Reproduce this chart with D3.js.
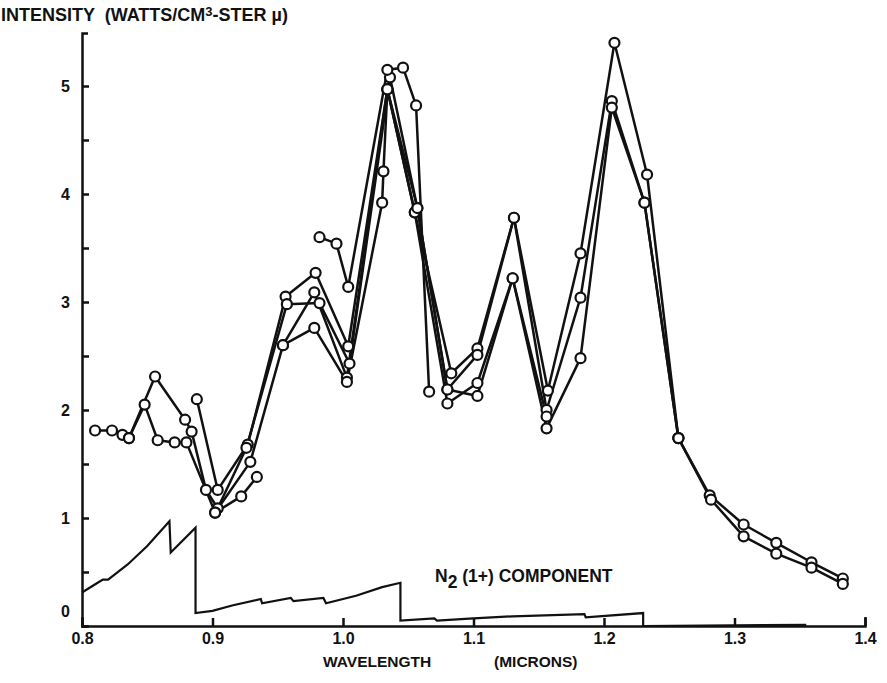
<!DOCTYPE html>
<html>
<head>
<meta charset="utf-8">
<script src="https://cdn.jsdelivr.net/npm/d3@7"></script>
<style>
  body { margin: 0; background: #fff; }
  text { font-family: "Liberation Sans", Arial, sans-serif; fill: #111; font-weight: bold; }
</style>
</head>
<body>
<script>
// measured runs: [wavelength (microns), intensity]
var run1 = [[0.888,2.10],[0.904,1.26],[0.927,1.68],[0.956,3.05],[0.979,3.27],[1.004,2.59],[1.034,4.97],[1.055,3.83],[1.083,2.34],[1.103,2.57],[1.131,3.78],[1.157,2.18],[1.182,3.45],[1.208,5.40],[1.233,4.18],[1.257,1.74],[1.281,1.21],[1.307,0.94],[1.332,0.77],[1.359,0.59],[1.383,0.44]]
var run2 = [[0.810,1.81],[0.823,1.81],[0.831,1.77],[0.836,1.74],[0.856,2.31],[0.879,1.91],[0.884,1.80],[0.895,1.26],[0.904,1.09],[0.926,1.65],[0.957,2.98],[0.982,2.99],[1.005,2.43],[1.036,5.08],[1.057,3.87],[1.080,2.19],[1.103,2.51],[1.131,3.78],[1.156,2.00],[1.182,3.04],[1.206,4.86],[1.231,3.92],[1.257,1.74],[1.282,1.17],[1.307,0.83],[1.332,0.67],[1.359,0.54],[1.383,0.39]]
var run3 = [[0.836,1.74],[0.848,2.05],[0.858,1.72],[0.871,1.70],[0.880,1.70],[0.902,1.05],[0.929,1.52],[0.954,2.60],[0.978,3.09],[1.003,2.30],[1.034,4.97],[1.055,3.83],[1.080,2.06],[1.103,2.25],[1.130,3.22],[1.156,1.94]]
var run4 = [[0.902,1.05],[0.922,1.20],[0.934,1.38]]
var run5 = [[0.954,2.60],[0.978,2.76],[1.003,2.26],[1.030,3.92],[1.031,4.21],[1.034,4.97],[1.057,3.87],[1.080,2.19],[1.103,2.13],[1.130,3.22],[1.156,1.83],[1.182,2.48],[1.206,4.80],[1.231,3.92],[1.257,1.74]]
var run6 = [[0.982,3.60],[0.995,3.54],[1.004,3.14],[1.034,5.15],[1.046,5.17],[1.056,4.82],[1.066,2.17]]

// N2 (1+) component, sawtooth
var n2 = [[0.800,0.31],[0.812,0.40],[0.816,0.43],[0.820,0.43],[0.835,0.57],[0.850,0.74],[0.867,0.97],[0.868,0.68],[0.887,0.91],[0.887,0.12],[0.900,0.14],[0.915,0.19],[0.937,0.25],[0.938,0.21],[0.960,0.26],[0.962,0.23],[0.985,0.26],[0.987,0.21],[1.010,0.28],[1.030,0.36],[1.044,0.40],[1.044,0.05],[1.070,0.07],[1.072,0.05],[1.100,0.07],[1.130,0.09],[1.185,0.11],[1.186,0.08],[1.230,0.12],[1.230,0.0],[1.355,0.01]]

var xTicks = [0.8, 0.9, 1.0, 1.1, 1.2, 1.3, 1.4]
var yTicks = [0, 0.5, 1, 1.5, 2, 2.5, 3, 3.5, 4, 4.5, 5]

var width = 887,
    height = 683

var x = d3.scaleLinear().domain([0.8, 1.4]).range([82, 865])
var y = d3.scaleLinear().domain([0, (626 - 33) / 108]).range([626, 33])

var svg = d3.select("body").append("svg")
    .attr("width", width)
    .attr("height", height)

// axes
var yAxis = d3.axisLeft(y)
    .tickValues(yTicks)
    .tickSizeInner(-7)
    .tickSizeOuter(-6)
    .tickPadding(12)
    .tickFormat(function(d) { return d % 1 === 0 ? d : "" })

var gy = svg.append("g").attr("transform", "translate(82,0)").call(yAxis)
gy.selectAll("text").style("font-size", "16px")
gy.selectAll(".tick").filter(function(d) { return d === 0 }).select("text").attr("dy", "-0.6em")

var xAxis = d3.axisBottom(x)
    .tickValues(xTicks)
    .tickSizeInner(-8)
    .tickSizeOuter(-9)
    .tickPadding(7)
    .tickFormat(d3.format(".1f"))

var gx = svg.append("g").attr("transform", "translate(0,626)").call(xAxis)
gx.selectAll("text").style("font-size", "16px")

svg.selectAll(".domain, .tick line").attr("stroke", "#111").attr("stroke-width", 2.5)

// axis titles
svg.append("text").attr("x", 1).attr("y", 21).style("font-size", "18px")
    .html('INTENSITY &#160;(WATTS/CM<tspan dy="-5" font-size="13px">3</tspan><tspan dy="5">-STER \u00b5)</tspan>')
svg.append("text").attr("x", 323).attr("y", 667).style("font-size", "15.5px").text("WAVELENGTH")
svg.append("text").attr("x", 494).attr("y", 667).style("font-size", "15.5px").text("(MICRONS)")

// N2 component
var line = d3.line().x(function(d) { return x(d[0]) }).y(function(d) { return y(d[1]) })

svg.append("path").datum(n2)
    .attr("d", line)
    .attr("fill", "none")
    .attr("stroke", "#111")
    .attr("stroke-width", 2.2)

svg.append("text").attr("x", 435).attr("y", 582).style("font-size", "17.5px")
    .html('N<tspan dy="6">2</tspan><tspan dy="-6"> (1+) COMPONENT</tspan>')

// measured runs
var runs = [run1, run2, run3, run4, run5, run6]

svg.selectAll(".run").data(runs).enter().append("path")
    .attr("class", "run")
    .attr("d", line)
    .attr("fill", "none")
    .attr("stroke", "#111")
    .attr("stroke-width", 2.5)
    .attr("stroke-linejoin", "round")

runs.forEach(function(r) {
    svg.selectAll(null).data(r).enter().append("circle")
        .attr("cx", function(d) { return x(d[0]) })
        .attr("cy", function(d) { return y(d[1]) })
        .attr("r", 5)
        .attr("fill", "#fff")
        .attr("stroke", "#111")
        .attr("stroke-width", 2.2)
})
</script>
</body>
</html>
